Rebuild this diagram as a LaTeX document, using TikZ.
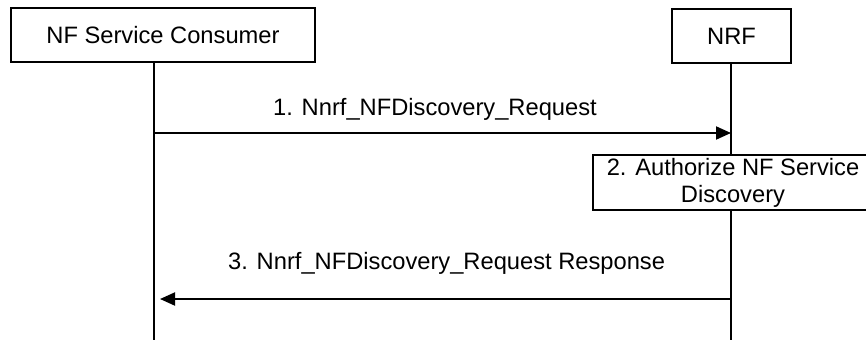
\documentclass[tikz,border=0pt]{standalone}
\usepackage{fontspec}
\setmainfont{Liberation Sans}
\usetikzlibrary{arrows.meta}
\begin{document}
\begin{tikzpicture}[x=1pt,y=-1pt,
  every node/.style={font=\fontsize{23.7}{27}\selectfont},
  entity/.style={draw,line width=1.5pt,minimum height=54pt,inner sep=0pt},
  stepbox/.style={draw,line width=1.5pt,minimum height=55pt,inner sep=0pt,align=center},
  lbl/.style={inner sep=0pt,anchor=base west},
  life/.style={line width=1.3pt},
  msg/.style={line width=2pt,-{Triangle[length=15pt,width=13pt]}}]
\useasboundingbox (0,0) rectangle (866,340);
\node[entity,minimum width=304pt] (cons) at (163,35) {NF Service Consumer};
\node[entity,minimum width=119pt] (nrf) at (731.5,36) {NRF};
\node[stepbox,minimum width=280pt] (auth) at (733,182.5) {2. Authorize NF Service\\Discovery};
\coordinate (c1) at (154,62);
\coordinate (c2) at (154,340);
\coordinate (n1) at (731,63);
\coordinate (n2) at (731,155);
\coordinate (n3) at (731,210);
\coordinate (n4) at (731,340);
\coordinate (m1s) at (154,133);
\coordinate (m1e) at (731,133);
\coordinate (m3s) at (731,299);
\coordinate (m3e) at (160,299);
\draw[life] (c1) -- (c2);
\draw[life] (n1) -- (n2);
\draw[life] (n3) -- (n4);
\draw[msg] (m1s) -- (m1e);
\draw[msg] (m3s) -- (m3e);
\node[lbl] (l1) at (273,115) {1. Nnrf\_NFDiscovery\_Request};
\node[lbl] (l3) at (228,269) {3. Nnrf\_NFDiscovery\_Request Response};
\end{tikzpicture}
\end{document}
